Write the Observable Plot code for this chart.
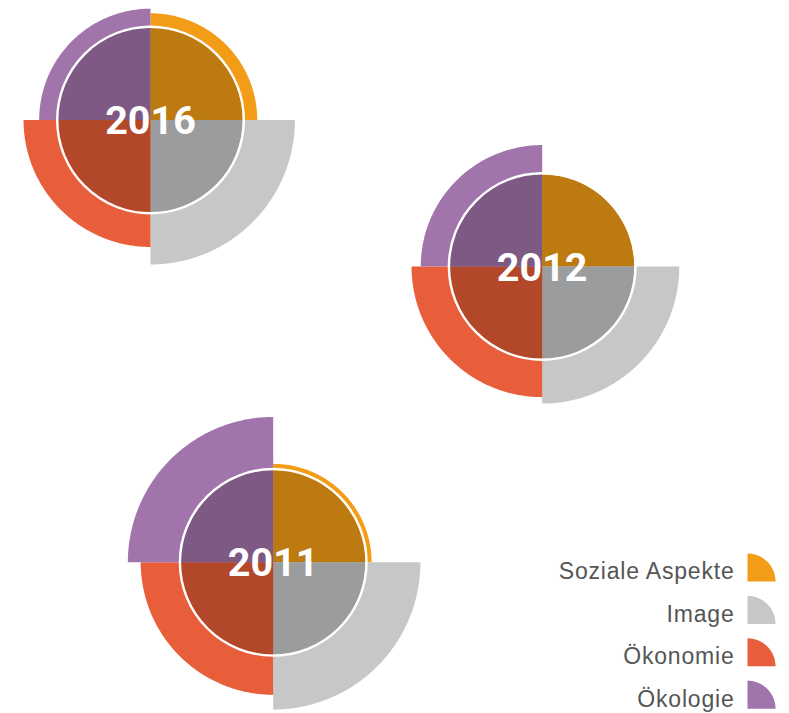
<!DOCTYPE html>
<html><head><meta charset="utf-8">
<script src="https://cdn.jsdelivr.net/npm/d3@7"></script>
<script src="https://cdn.jsdelivr.net/npm/@observablehq/plot@0.6"></script>
<style>html,body{margin:0;padding:0;background:#fff}</style>
</head><body><div id="chart"></div>
<script>
// ---- data ----
const categories = ["Soziale Aspekte", "Image", "Ökonomie", "Ökologie"];
const years = ["2016", "2012", "2011"];
// index values per category (inner circle = 100)
const values2016 = [116, 157, 138, 121];
const values2012 = [100, 149, 142, 132];
const values2011 = [107, 160, 144, 158];
const outerColors = ["#F39C17", "#C6C7C8", "#E85E3A", "#A175AB"];
const innerColors = ["#BD7A10", "#9B9C9D", "#B3472A", "#7D5983"];

// ---- layout ----
const W = 789, H = 713;
const centers = {"2016": [150, 119.5], "2012": [541.7, 266], "2011": [272.7, 561.8]};
const valuesByYear = {"2016": values2016, "2012": values2012, "2011": values2011};
const innerIndex = 100;
const rScale = d3.scaleLinear().domain([0, 100]).range([0, 92]);
const quadrant = i => [i * 90, (i + 1) * 90]; // degrees clockwise from up

function sector(key, cx, cy, rad, a0, a1, color) {
  const pts = [{key, x: cx, y: cy, color}];
  for (let a = a0; a <= a1 + 1e-9; a += 0.5) {
    const t = a * Math.PI / 180;
    pts.push({key, x: cx + rad * Math.sin(t), y: cy - rad * Math.cos(t), color});
  }
  pts.push({key, x: cx, y: cy, color});
  return pts;
}

const outerPts = [], innerPts = [], labels = [], rings = [];
years.forEach(yr => {
  const [cx, cy] = centers[yr];
  valuesByYear[yr].forEach((v, i) => {
    const [a0, a1] = quadrant(i);
    outerPts.push(...sector(`o-${yr}-${i}`, cx, cy, rScale(v), a0, a1, outerColors[i]));
    innerPts.push(...sector(`i-${yr}-${i}`, cx, cy, rScale(Math.min(v, innerIndex)), a0, a1, innerColors[i]));
  });
  labels.push({yr, x: cx, y: cy});
  rings.push({x: cx, y: cy});
});

// legend
const legendX = 734, legendIconX = 747, legendTop = 581, legendStep = 42.4;
const legendPts = [], legendText = [];
categories.forEach((c, i) => {
  const by = legendTop + i * legendStep;
  legendPts.push(...sector(`l-${i}`, legendIconX, by, 28, 0, 90, outerColors[i]));
  legendText.push({c, x: legendX, y: by - 2 - 7.4});
});

const chart = Plot.plot({
  width: W, height: H,
  margin: 0,
  x: {domain: [0, W], range: [0, W], axis: null},
  y: {domain: [0, H], range: [0, H], axis: null},
  color: {type: "identity"},
  style: {background: "#fff"},
  marks: [
    Plot.line(outerPts, {x: "x", y: "y", z: "key", fill: "color", stroke: "none", curve: "linear"}),
    Plot.line(innerPts, {x: "x", y: "y", z: "key", fill: "color", stroke: "none", curve: "linear"}),
    Plot.dot(rings, {x: "x", y: "y", r: 93.3, fill: "none", stroke: "white", strokeWidth: 2.4}),
    Plot.text(labels, {x: "x", y: "y", text: "yr", fill: "white", fontSize: 39.5, fontWeight: "bold",
      fontFamily: "Roboto", textAnchor: "middle", dy: 1.5}),
    Plot.line(legendPts, {x: "x", y: "y", z: "key", fill: "color", stroke: "none"}),
    Plot.text(legendText, {x: "x", y: "y", text: "c", fill: "#555", fontSize: 23,
      fontFamily: "Liberation Sans", textAnchor: "end"})
  ]
});
chart.querySelectorAll('g[font-family="Liberation Sans"] text').forEach(t => t.setAttribute("letter-spacing", "0.8"));
document.getElementById("chart").appendChild(chart);
</script>
</body></html>
